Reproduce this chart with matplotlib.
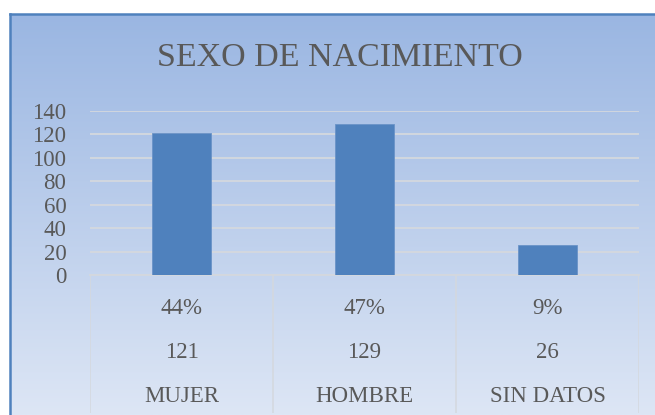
import numpy as np
import matplotlib
matplotlib.use("Agg")
import matplotlib.pyplot as plt
from matplotlib.colors import LinearSegmentedColormap

categories = ["MUJER", "HOMBRE", "SIN DATOS"]
values = [121, 129, 26]
percents = ["44%", "47%", "9%"]
yticks = [0, 20, 40, 60, 80, 100, 120, 140]
title = "SEXO DE NACIMIENTO"

W, H = 655, 415
fig = plt.figure(figsize=(W / 100, H / 100), dpi=100)
fig.patch.set_facecolor("white")

FONT = "Liberation Serif"
TXT = "#595959"
FS = 16.5

def fx(px):
    return px / W

def fy(py):
    return 1 - py / H

# background gradient frame
bg_left, bg_top = 10, 14
bg = fig.add_axes([fx(bg_left), 0, 1 - fx(bg_left), fy(bg_top)])
grad = np.linspace(0, 1, 256).reshape(-1, 1)
cmap = LinearSegmentedColormap.from_list("g", ["#9AB6E2", "#DDE6F5"])
bg.imshow(grad, aspect="auto", cmap=cmap, extent=[0, 1, 0, 1], origin="upper")
bg.set_xlim(0, 1)
bg.set_ylim(0, 1)
bg.set_xticks([])
bg.set_yticks([])
for s in ["right", "bottom"]:
    bg.spines[s].set_visible(False)
for s in ["left", "top"]:
    bg.spines[s].set_color("#4F81BD")
    bg.spines[s].set_linewidth(1.8)

# title
fig.text(fx(340), fy(58), title, ha="center", va="center", fontsize=24.5,
         color=TXT, family=FONT)

# main axes
x0, x1 = 90, 639
y_top, y_bot = 111, 275
ax = fig.add_axes([fx(x0), fy(y_bot), fx(x1 - x0), fy(y_top) - fy(y_bot)])
ax.patch.set_alpha(0)
x = np.arange(len(categories))
ax.bar(x, values, width=0.32, color="#4F81BD", edgecolor="#6A93C8",
       linewidth=0.6, zorder=3)
ax.set_xlim(-0.5, len(categories) - 0.5)
ax.set_ylim(0, 140)
ax.set_yticks(yticks)
ax.set_yticklabels([str(t) for t in yticks], fontsize=FS, color=TXT, family=FONT)
ax.tick_params(axis="y", length=0, pad=17)
ax.set_xticks([])
ax.yaxis.grid(True, color="#D4D8DE", linewidth=1.3, zorder=0)
ax.set_axisbelow(True)
for s in ["left", "right", "top"]:
    ax.spines[s].set_visible(False)
ax.spines["bottom"].set_color("#D4D8DE")
ax.spines["bottom"].set_linewidth(1.3)

# data table
tab_bottom = 413
tax = fig.add_axes([fx(x0), fy(tab_bottom), fx(x1 - x0), fy(y_bot) - fy(tab_bottom)])
tax.patch.set_alpha(0)
tax.set_xlim(-0.5, len(categories) - 0.5)
tax.set_ylim(tab_bottom, y_bot)
tax.axis("off")
for b in np.arange(-0.5, len(categories), 1.0):
    tax.plot([b, b], [y_bot, tab_bottom], color="#D4D8DE", linewidth=1.1)
for i in range(len(categories)):
    tax.text(x[i], 308, percents[i], ha="center", va="center", fontsize=FS,
             color=TXT, family=FONT)
    tax.text(x[i], 352, str(values[i]), ha="center", va="center", fontsize=FS,
             color=TXT, family=FONT)
    tax.text(x[i], 396, categories[i], ha="center", va="center", fontsize=FS,
             color=TXT, family=FONT)

fig.savefig("out.png", dpi=100)
